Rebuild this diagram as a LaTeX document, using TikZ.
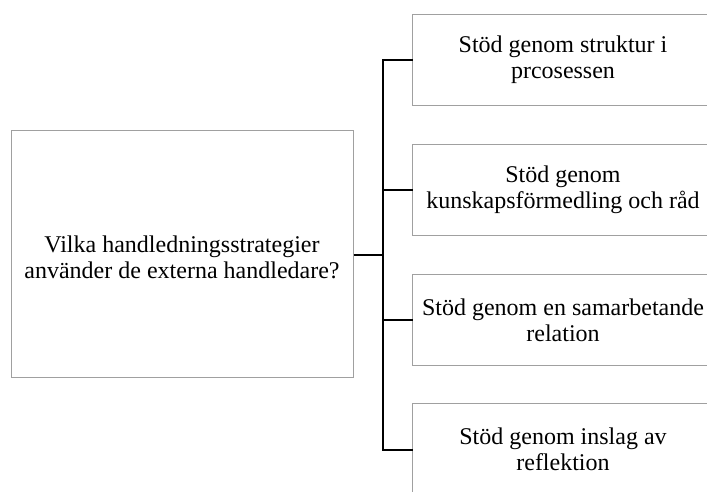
\documentclass[tikz,border=0pt]{standalone}
\usepackage{fontspec}
\setmainfont{Liberation Serif}
\definecolor{boxgray}{RGB}{160,160,160}
\begin{document}
\begin{tikzpicture}[x=1pt,y=1pt,
  txt/.style={inner sep=0pt, align=center, font=\fontsize{24}{26}\selectfont},
  boxline/.style={draw=boxgray, line width=1pt},
  leftbox/.style={boxline, inner sep=0pt, minimum width=342pt, minimum height=246pt},
  rightbox/.style={txt, minimum width=300pt, minimum height=91pt},
  conn/.style={draw=black, line width=2pt}]
\useasboundingbox (0,0) rectangle (707,491);
\clip (0,0) rectangle (707,491);
\node[leftbox] (L) at (182,237) {};
\node[txt] (Lt) at (182,234) {Vilka handledningsstrategier\\använder de externa handledare?};
\node[rightbox] (R1) at (563,431) {Stöd genom struktur i\\prcosessen};
\node[rightbox] (R2) at (563,301) {Stöd genom\\kunskapsförmedling och råd};
\node[rightbox] (R3) at (563,171) {Stöd genom en samarbetande\\relation};
\node[rightbox] (R4) at (563,41.5) {Stöd genom inslag av\\reflektion};
\foreach \r in {R1,R2,R3,R4}
  \draw[boxline] ([xshift=40pt]\r.north east) -- (\r.north west) -- (\r.south west) -- ([xshift=40pt]\r.south east);
\coordinate (j) at (383,236);
\draw[conn] (L.east |- j) -- (j);
\draw[conn] (R1.west) -| (j) |- (R4.west);
\draw[conn] (R2.west) -- (R2.west -| j);
\draw[conn] (R3.west) -- (R3.west -| j);
\end{tikzpicture}
\end{document}
